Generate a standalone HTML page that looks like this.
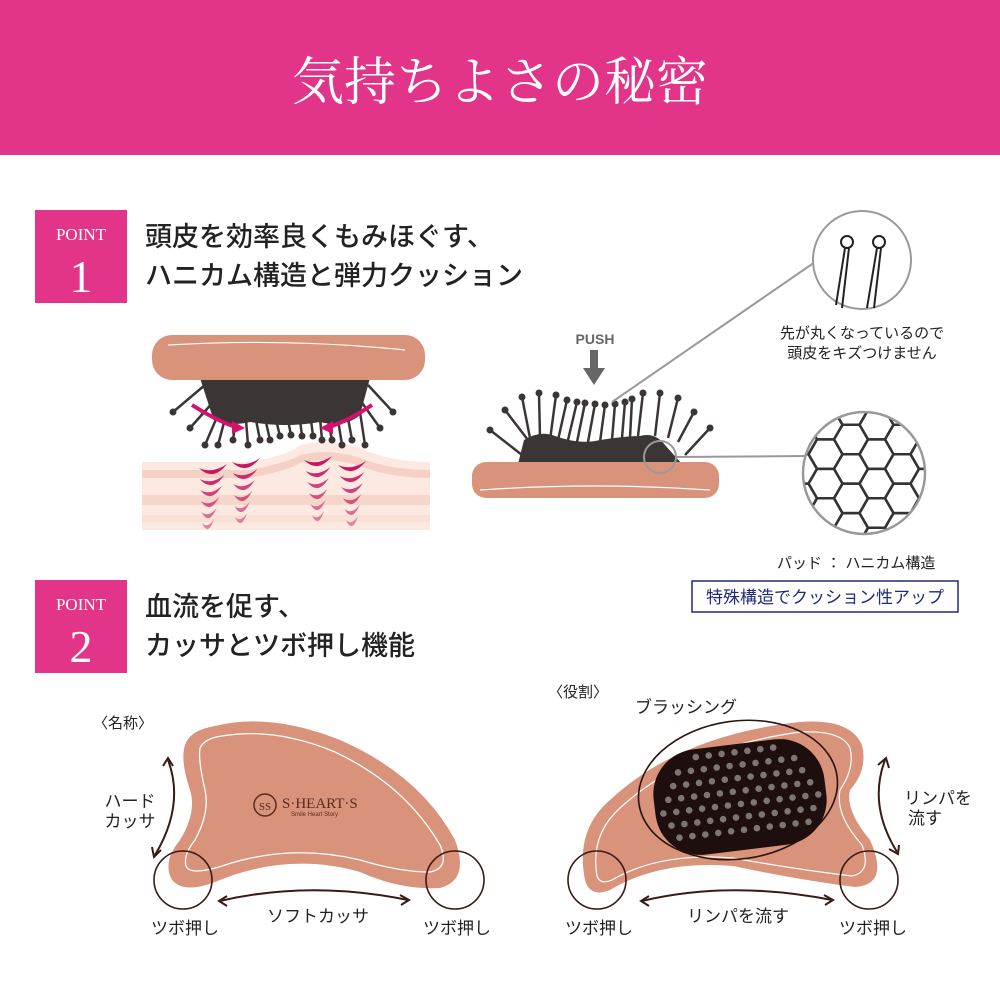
<!DOCTYPE html>
<html><head><meta charset="utf-8">
<style>
html,body{margin:0;padding:0;background:#fff;}
svg{display:block;}
.jp{font-family:"Liberation Sans","Noto Sans CJK JP",sans-serif;}
.sf{font-family:"Liberation Serif","Noto Serif CJK SC",serif;}
.hd{font-weight:500;}
</style></head>
<body>
<svg id="s" width="1000" height="1000" viewBox="0 0 1000 1000" xmlns="http://www.w3.org/2000/svg">
<rect x="0" y="0" width="1000" height="155" fill="#e2358a"/>
<text x="500" y="100" text-anchor="middle" fill="#fff" font-size="52" class="sf">気持ちよさの秘密</text>

<!-- POINT 1 -->
<rect x="35" y="210" width="92" height="93" fill="#e2358a"/>
<text x="81" y="240" text-anchor="middle" fill="#fff" font-size="17" class="sf">POINT</text>
<text x="81" y="292" text-anchor="middle" fill="#fff" font-size="46" class="sf">1</text>
<text x="145" y="246" font-size="27" fill="#222" class="jp hd">頭皮を効率良くもみほぐす、</text>
<text x="145" y="285" font-size="27" fill="#222" class="jp hd">ハニカム構造と弾力クッション</text>

<!-- POINT 2 -->
<rect x="35" y="580" width="92" height="93" fill="#e2358a"/>
<text x="81" y="610" text-anchor="middle" fill="#fff" font-size="17" class="sf">POINT</text>
<text x="81" y="662" text-anchor="middle" fill="#fff" font-size="46" class="sf">2</text>
<text x="145" y="616" font-size="27" fill="#222" class="jp hd">血流を促す、</text>
<text x="145" y="655" font-size="27" fill="#222" class="jp hd">カッサとツボ押し機能</text>

<!-- left illustration: skin -->
<g>
<path d="M142,462 L250,462 Q290,455 300,445 Q330,438 360,448 Q390,462 430,462 L430,530 L142,530 Z" fill="#fbe9e2"/>
<path d="M142,470 L250,470 Q290,462 300,455 Q330,448 360,458 Q390,470 430,470 L430,478 Q390,478 360,466 Q330,456 300,463 Q290,470 250,478 L142,478 Z" fill="#f5d0c5"/>
<path d="M142,495 L430,495 L430,505 L142,505 Z" fill="#f6d5ca"/>
<path d="M142,515 L430,515 L430,522 L142,522 Z" fill="#f8ddd4" opacity="0.8"/>
<g id="chev"></g>
</g>
<g id="lbr"></g>
<rect x="152" y="335" width="273" height="45" rx="20" fill="#d8937a"/>
<path d="M168,345 Q290,338 405,350" stroke="#fff" stroke-width="1.2" fill="none"/>

<!-- right brush -->
<text x="595" y="344" text-anchor="middle" font-size="14" font-weight="bold" fill="#666" class="jp">PUSH</text>
<rect x="590" y="350" width="8" height="20" fill="#666"/>
<path d="M583,368 L605,368 L594,385 Z" fill="#666"/>
<g id="rbr"></g>
<rect x="472" y="462" width="247" height="36" rx="14" fill="#d8937a"/>
<path d="M480,490 Q595,482 710,490" stroke="#fff" stroke-width="1.2" fill="none"/>
<circle cx="660" cy="457" r="16" fill="none" stroke="#999" stroke-width="2"/>
<line x1="612" y1="402" x2="815" y2="262" stroke="#999" stroke-width="2"/>
<line x1="676" y1="457" x2="805" y2="456" stroke="#999" stroke-width="2"/>
<circle cx="862" cy="260" r="49" fill="#fff" stroke="#999" stroke-width="2"/>
<g stroke="#222" stroke-width="2" fill="none">
<circle cx="847" cy="242" r="6"/><circle cx="879" cy="242" r="6"/>
<line x1="845" y1="248" x2="836" y2="305"/><line x1="849" y1="248" x2="842" y2="308"/>
<line x1="877" y1="248" x2="867" y2="308"/><line x1="881" y1="248" x2="874" y2="308"/>
</g>
<text x="862" y="338" text-anchor="middle" font-size="15" fill="#222" class="jp">先が丸くなっているので</text>
<text x="862" y="358" text-anchor="middle" font-size="15" fill="#222" class="jp">頭皮をキズつけません</text>
<clipPath id="hc"><circle cx="864" cy="473" r="61"/></clipPath>
<g clip-path="url(#hc)" id="hex"></g>
<circle cx="864" cy="473" r="61" fill="none" stroke="#999" stroke-width="2.5"/>
<text x="777" y="568" font-size="15" fill="#222" class="jp">パッド ： ハニカム構造</text>
<rect x="692" y="581" width="266" height="31" fill="#fff" stroke="#1f2a7a" stroke-width="1.5"/>
<text x="825" y="603" text-anchor="middle" font-size="17" fill="#1f2a7a" class="jp">特殊構造でクッション性アップ</text>

<!-- bottom left -->
<text x="93" y="728" font-size="15" fill="#222" class="jp">〈名称〉</text>
<path d="M185,745 Q190,730 215,726 Q270,712 340,740 Q420,775 455,840 Q470,880 440,888 Q400,890 360,872 Q290,852 220,880 Q185,895 172,880 Q162,862 180,840 Q197,812 190,790 Q180,760 185,745 Z" fill="#d8937a"/>
<path d="M200,748 Q205,738 222,736 Q275,727 335,752 Q405,785 440,845 Q450,868 430,872 Q400,872 360,860 Q290,843 222,866 Q190,876 186,866 Q183,855 195,840 Q210,812 205,790 Q198,760 200,748 Z" fill="none" stroke="#fff" stroke-width="1.3"/>
<circle cx="265" cy="805" r="11" fill="none" stroke="#5a2a20" stroke-width="1.5"/>
<text x="265" y="810" text-anchor="middle" font-size="11" fill="#5a2a20" class="sf">SS</text>
<text x="282" y="808" font-size="15" fill="#5a2a20" class="sf">S·HEART·S</text>
<text x="291" y="816" font-size="6" fill="#5a2a20" class="jp">Smile Heart Story</text>
<circle cx="183" cy="880" r="29" fill="none" stroke="#3a1a16" stroke-width="1.6"/>
<circle cx="455" cy="880" r="29" fill="none" stroke="#3a1a16" stroke-width="1.6"/>
<g stroke="#3a1a16" stroke-width="2" fill="none">
<path d="M168,760 Q185,805 155,855"/>
<path d="M163,766 L168,758 L173,766"/>
<path d="M152,847 L154,857 L161,850"/>
<path d="M220,901 Q310,880 408,900"/>
<path d="M227,896 L219,901 L227,906"/>
<path d="M400,895 L409,900 L401,905"/>
</g>
<text x="130" y="807" text-anchor="middle" font-size="17" fill="#222" class="jp">ハード</text>
<text x="130" y="827" text-anchor="middle" font-size="17" fill="#222" class="jp">カッサ</text>
<text x="185" y="934" text-anchor="middle" font-size="17" fill="#222" class="jp">ツボ押し</text>
<text x="318" y="922" text-anchor="middle" font-size="17" fill="#222" class="jp">ソフトカッサ</text>
<text x="457" y="934" text-anchor="middle" font-size="17" fill="#222" class="jp">ツボ押し</text>

<!-- bottom right -->
<text x="548" y="697" font-size="15" fill="#222" class="jp">〈役割〉</text>
<text x="686" y="713" text-anchor="middle" font-size="17" fill="#222" class="jp">ブラッシング</text>
<path d="M585,880 Q575,830 610,800 Q680,735 800,722 Q850,718 862,745 Q868,770 850,790 Q845,810 870,840 Q890,885 855,887 Q800,880 733,866 Q660,860 610,890 Q590,898 585,880 Z" fill="#d8937a"/>
<path d="M597,876 Q590,835 620,808 Q685,748 800,732 Q842,730 850,748 Q855,768 840,790 Q835,815 862,845 Q872,872 852,876 Q800,870 733,858 Q660,852 612,880 Q600,885 597,876 Z" fill="none" stroke="#fff" stroke-width="1.2"/>
<ellipse cx="738" cy="790" rx="100" ry="69" transform="rotate(-8 738 790)" fill="none" stroke="#2a1410" stroke-width="1.6"/>
<rect x="654" y="744" width="172" height="106" rx="45" transform="rotate(-7 740 797)" fill="#1e0e0e"/>
<g id="dots"></g>
<circle cx="597" cy="880" r="29" fill="none" stroke="#3a1a16" stroke-width="1.6"/>
<circle cx="869" cy="880" r="29" fill="none" stroke="#3a1a16" stroke-width="1.6"/>
<g stroke="#3a1a16" stroke-width="2" fill="none">
<path d="M885,760 Q868,805 897,852"/>
<path d="M878,765 L886,758 L889,768"/>
<path d="M889,849 L898,854 L899,845"/>
<path d="M642,901 Q730,880 832,900"/>
<path d="M649,896 L641,901 L649,906"/>
<path d="M824,895 L833,900 L825,905"/>
</g>
<text x="938" y="804" text-anchor="middle" font-size="17" fill="#222" class="jp">リンパを</text>
<text x="925" y="824" text-anchor="middle" font-size="17" fill="#222" class="jp">流す</text>
<text x="599" y="934" text-anchor="middle" font-size="17" fill="#222" class="jp">ツボ押し</text>
<text x="738" y="922" text-anchor="middle" font-size="17" fill="#222" class="jp">リンパを流す</text>
<text x="873" y="934" text-anchor="middle" font-size="17" fill="#222" class="jp">ツボ押し</text>
</svg>
<script>
var NS="http://www.w3.org/2000/svg";
function el(p,t,a){var e=document.createElementNS(NS,t);for(var k in a)e.setAttribute(k,a[k]);document.getElementById(p).appendChild(e);return e;}
el("lbr","path",{d:"M200,378 L370,378 L360,415 Q345,428 320,422 Q285,428 250,422 Q225,428 212,415 Z",fill:"#3b3535"});
var lb=[[173,412,205,385],[190,428,215,400],[205,445,220,410],[218,445,226,415],[233,440,236,418],[248,445,246,420],[260,440,256,420],[270,440,265,418],[280,436,276,420],[291,435,288,420],[302,436,300,420],[313,436,311,420],[322,440,320,418],[332,440,328,420],[342,445,338,420],[352,440,348,418],[365,445,360,412],[380,428,360,400],[393,412,368,385]];
lb.forEach(function(b){el("lbr","line",{x1:b[0],y1:b[1],x2:b[2],y2:b[3],stroke:"#3b3535","stroke-width":2.5});el("lbr","circle",{cx:b[0],cy:b[1],r:3.5,fill:"#3b3535"});});
el("lbr","path",{d:"M192,405 Q215,420 238,428",stroke:"#d6106c","stroke-width":4,fill:"none"});
el("lbr","path",{d:"M232,421 L245,428 L232,434 Z",fill:"#d6106c"});
el("lbr","path",{d:"M372,405 Q350,420 327,428",stroke:"#d6106c","stroke-width":4,fill:"none"});
el("lbr","path",{d:"M333,421 L320,428 L333,434 Z",fill:"#d6106c"});
[[213,468],[246,462],[318,460],[352,465]].forEach(function(c,i){for(var j=0;j<6;j++){var y=c[1]+j*11,w=14-j*1.6,x=c[0]+(i<2?-j*1:0);
el("chev","path",{d:"M"+(x-w)+","+y+" Q"+x+","+(y+14)+" "+(x+w)+","+(y-4)+" Q"+x+","+(y+6)+" "+(x-w)+","+y+"Z",fill:"#c8175f",opacity:1-j*0.1});}});
el("rbr","path",{d:"M518,464 L524,440 Q540,430 555,436 Q580,445 600,440 Q625,436 640,436 Q655,432 665,445 L682,464 Z",fill:"#3b3535"});
var rb=[[490,430,522,455],[505,410,528,440],[522,397,530,438],[539,393,540,438],[556,395,550,440],[567,400,558,440],[577,402,568,440],[585,403,577,442],[595,404,588,442],[605,405,600,442],[615,404,612,440],[625,402,622,438],[632,399,630,438],[643,393,638,436],[660,393,655,436],[678,398,668,438],[694,412,678,442],[710,428,685,455]];
rb.forEach(function(b){el("rbr","line",{x1:b[0],y1:b[1],x2:b[2],y2:b[3],stroke:"#3b3535","stroke-width":2.5});el("rbr","circle",{cx:b[0],cy:b[1],r:3.5,fill:"#3b3535"});});
var s=17,h=s*Math.sqrt(3);
for(var c=-1;c<6;c++)for(var r=-1;r<6;r++){var cx=800+c*s*1.5,cy=410+r*h+(c%2?h/2:0),p="";for(var k=0;k<6;k++){var a=Math.PI/3*k;p+=(k?"L":"M")+(cx+s*Math.cos(a)).toFixed(1)+","+(cy+s*Math.sin(a)).toFixed(1);}
el("hex","path",{d:p+"Z",fill:"none",stroke:"#333","stroke-width":2.5});}
// dots in local rotated frame
var ang=-7*Math.PI/180,ca=Math.cos(ang),sa=Math.sin(ang);
for(var r=0;r<8;r++)for(var c=0;c<13;c++){var u=-78+c*13+(r%2?6.5:0),v=-45+r*13;
var ax=Math.max(0,Math.abs(u)-(86-45)),ay=Math.max(0,Math.abs(v)-(53-45));
if(Math.abs(u)>78||Math.abs(v)>46)continue;
if(ax*ax+ay*ay>37*37)continue;
var x=740+u*ca-v*sa,y=797+u*sa+v*ca;
el("dots","circle",{cx:x.toFixed(1),cy:y.toFixed(1),r:3.3,fill:"#7d7575"});}
</script>
</body></html>
